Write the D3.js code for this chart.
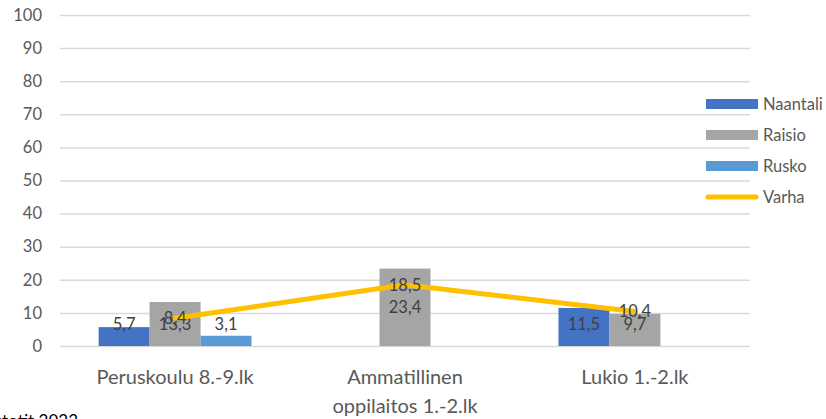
<!DOCTYPE html>
<html>
<head>
<meta charset="utf-8">
<script src="https://cdn.jsdelivr.net/npm/d3@7"></script>
<style>
  body { margin: 0; background: #fff; }
  svg { display: block; font-family: Lato, "Open Sans", sans-serif; }
</style>
</head>
<body>
<div id="chart"></div>
<script>
// data
const categories = ['Peruskoulu 8.-9.lk', 'Ammatillinen oppilaitos 1.-2.lk', 'Lukio 1.-2.lk'];
const catLines = [['Peruskoulu 8.-9.lk'], ['Ammatillinen', 'oppilaitos 1.-2.lk'], ['Lukio 1.-2.lk']];
const barSeries = ['Naantali', 'Raisio', 'Rusko'];
const naantali = [5.7, null, 11.5];
const raisio = [13.3, 23.4, 9.7];
const rusko = [3.1, null, null];
const varha = [8.4, 18.5, 10.4];
const yTicks = [0, 10, 20, 30, 40, 50, 60, 70, 80, 90, 100];

const colors = { Naantali: '#4472C4', Raisio: '#A5A5A5', Rusko: '#5B9BD5', Varha: '#FFC000' };

const w = 826, h = 419;
const plot = { left: 60, right: 750, top: 15, bottom: 346 };

const svg = d3.select('#chart').append('svg')
  .attr('width', w)
  .attr('height', h);

const xScale = d3.scaleBand()
  .domain(categories)
  .range([plot.left, plot.right])
  .paddingInner(0.335)
  .paddingOuter(0.168);

const xSub = d3.scaleBand()
  .domain(barSeries)
  .range([0, xScale.bandwidth()]);

const yScale = d3.scaleLinear()
  .domain([0, 100])
  .range([plot.bottom, plot.top]);

const fmt = v => String(v).replace('.', ',');

// gridlines + y labels
const yAxis = d3.axisLeft(yScale)
  .tickValues(yTicks)
  .tickSize(-(plot.right - plot.left))
  .tickPadding(18);

const gy = svg.append('g')
  .attr('transform', 'translate(' + plot.left + ',0)')
  .call(yAxis)
  .attr('font-size', null)
  .attr('font-family', null);
gy.select('.domain').remove();
gy.selectAll('.tick line').attr('stroke', '#d9d9d9').attr('stroke-width', 1.5);
gy.selectAll('.tick text')
  .attr('fill', '#595959')
  .attr('font-size', 16.5);

// bars
const seriesVals = { Naantali: naantali, Raisio: raisio, Rusko: rusko };
const barData = [];
categories.forEach((c, i) => {
  barSeries.forEach(s => {
    const v = seriesVals[s][i];
    if (v != null) barData.push({ cat: c, series: s, value: v });
  });
});

const bars = svg.append('g');
bars.selectAll('rect')
  .data(barData)
  .enter()
  .append('rect')
  .attr('x', d => xScale(d.cat) + xSub(d.series))
  .attr('y', d => yScale(d.value))
  .attr('width', xSub.bandwidth())
  .attr('height', d => yScale(0) - yScale(d.value))
  .attr('fill', d => colors[d.series]);

// line
const lineData = categories.map((c, i) => ({ cat: c, value: varha[i] }));
const line = d3.line()
  .x(d => xScale(d.cat) + xScale.bandwidth() / 2)
  .y(d => yScale(d.value));

svg.append('path')
  .datum(lineData)
  .attr('d', line)
  .attr('fill', 'none')
  .attr('stroke', colors.Varha)
  .attr('stroke-width', 5)
  .attr('stroke-linejoin', 'round')
  .attr('stroke-linecap', 'round');

// bar labels
bars.selectAll('text')
  .data(barData)
  .enter()
  .append('text')
  .attr('x', d => xScale(d.cat) + xSub(d.series) + xSub.bandwidth() / 2)
  .attr('y', d => Math.min((yScale(d.value) + yScale(0)) / 2, yScale(0) - 22))
  .attr('dy', '0.35em')
  .attr('text-anchor', 'middle')
  .attr('fill', '#404040')
  .attr('font-size', 16.5)
  .text(d => fmt(d.value));

// line labels
svg.append('g').selectAll('text')
  .data(lineData)
  .enter()
  .append('text')
  .attr('x', d => xScale(d.cat) + xScale.bandwidth() / 2)
  .attr('y', d => yScale(d.value))
  .attr('dy', '0.35em')
  .attr('text-anchor', 'middle')
  .attr('fill', '#404040')
  .attr('font-size', 16.5)
  .text(d => fmt(d.value));

// category labels
const gx = svg.append('g');
categories.forEach((c, i) => {
  const t = gx.append('text')
    .attr('x', xScale(c) + xScale.bandwidth() / 2)
    .attr('y', 384)
    .attr('text-anchor', 'middle')
    .attr('fill', '#595959')
    .attr('font-size', 20);
  catLines[i].forEach((l, j) => {
    t.append('tspan')
      .attr('x', xScale(c) + xScale.bandwidth() / 2)
      .attr('dy', j === 0 ? 0 : 29)
      .text(l);
  });
});

// legend
const legendItems = ['Naantali', 'Raisio', 'Rusko', 'Varha'];
const legend = svg.append('g').attr('transform', 'translate(706,104)');
legendItems.forEach((s, i) => {
  const g = legend.append('g').attr('transform', 'translate(0,' + (i * 31) + ')');
  if (s === 'Varha') {
    g.append('line')
      .attr('x1', 2).attr('x2', 50)
      .attr('y1', 0).attr('y2', 0)
      .attr('stroke', colors[s])
      .attr('stroke-width', 5)
      .attr('stroke-linecap', 'round');
  } else {
    g.append('rect')
      .attr('x', 0).attr('y', -5)
      .attr('width', 52).attr('height', 10)
      .attr('fill', colors[s]);
  }
  g.append('text')
    .attr('x', 57)
    .attr('y', 0)
    .attr('dy', '0.35em')
    .attr('fill', '#595959')
    .attr('font-size', 16.5)
    .text(s);
});

// source note (cut off at the bottom edge like in the original)
svg.append('text')
  .attr('x', 78)
  .attr('y', 427)
  .attr('text-anchor', 'end')
  .attr('fill', '#000')
  .attr('font-size', 17)
  .text('Lähde: Kouluterveyskysely, tilastotit 2023');
</script>
</body>
</html>
